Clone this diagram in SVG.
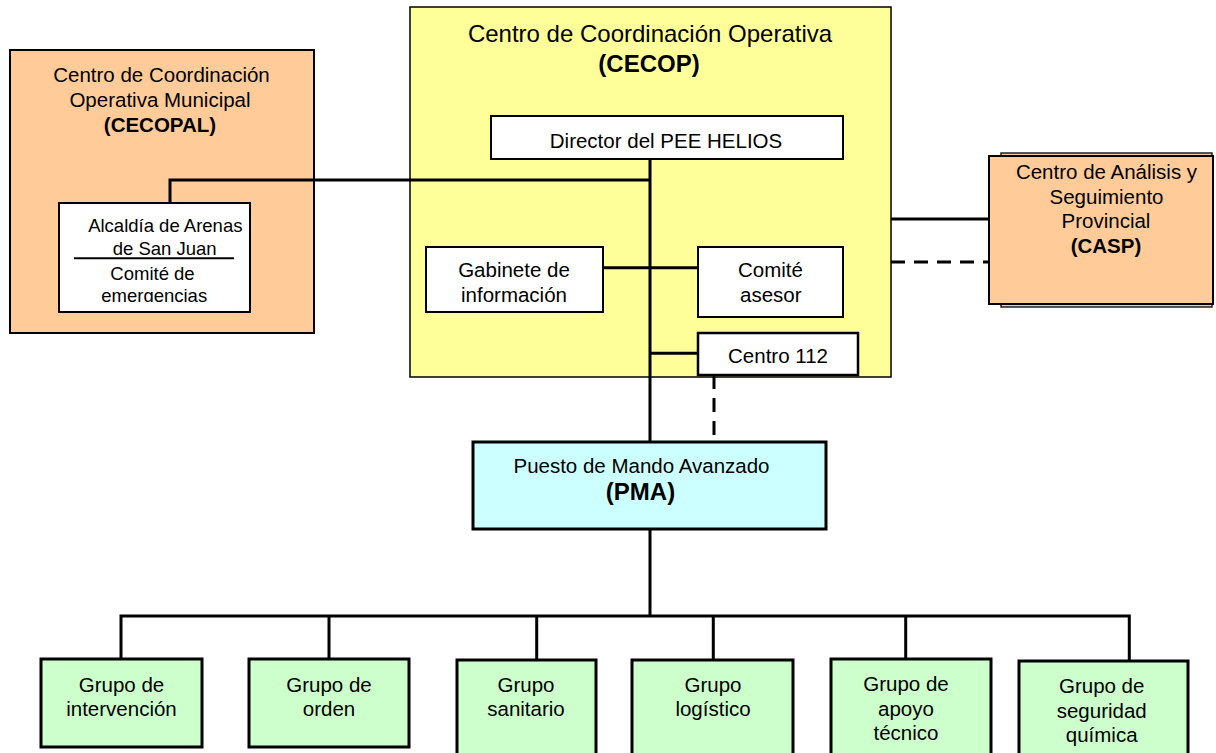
<svg xmlns="http://www.w3.org/2000/svg" width="1216" height="753" viewBox="0 0 1216 753">
<style>
text{font-family:"Liberation Sans",Arial,sans-serif;fill:#000;text-anchor:middle;font-size:20.5px}
.b{font-weight:bold}
.t24{font-size:24px}
.s{font-size:18.5px}
.peach{fill:#FFCC99}
.yel{fill:#FFFF99}
.cy{fill:#CCFFFF}
.gr{fill:#CCFFCC}
.wh{fill:#FFFFFF}
.ln{stroke:#000;stroke-width:3;fill:none}
.dash{stroke:#000;stroke-width:3;fill:none;stroke-dasharray:14 9}
</style>
<defs>
<clipPath id="clipAlc"><rect x="60" y="204" width="189" height="98"/></clipPath>
<clipPath id="clipGab"><rect x="427" y="248" width="175" height="54"/></clipPath>
</defs>
<rect x="0" y="0" width="1216" height="753" fill="#FFFFFF"/>

<g id="cecopal">
<rect x="10" y="50" width="304" height="283" class="peach" stroke="#000" stroke-width="2"/>
<text x="161.5" y="81.7">Centro de Coordinación</text>
<text x="160" y="106.7">Operativa Municipal</text>
<text x="160" y="131.7" class="b">(CECOPAL)</text>
</g>

<g id="cecop">
<rect x="410" y="7" width="481" height="370" class="yel" stroke="#000" stroke-width="1.5"/>
<text x="650" y="41.7" class="t24">Centro de Coordinación Operativa</text>
<text x="649" y="71.7" class="t24 b">(CECOP)</text>
</g>

<g id="casp">
<rect x="1001" y="153" width="211" height="154" class="peach" stroke="#222" stroke-width="1.5"/>
<rect x="989" y="156" width="224" height="148" class="peach" stroke="#000" stroke-width="2"/>
<text x="1106.5" y="179.3">Centro de Análisis y</text>
<text x="1106.5" y="203.5">Seguimiento</text>
<text x="1106" y="228.3">Provincial</text>
<text x="1106" y="252.7" class="b">(CASP)</text>
</g>

<g id="connectors">
<path class="ln" d="M650 159 V442"/>
<path class="ln" d="M170 203 V180 H650"/>
<path class="ln" d="M603 267.7 H698"/>
<path class="ln" d="M650 353.3 H698"/>
<path class="dash" d="M714 375 V455"/>
<path class="ln" d="M891 219 H989"/>
<path class="dash" d="M891 262 H989"/>
<path class="ln" d="M650 529 V616"/>
<path class="ln" d="M121 659 V616 H1129.3 V661"/>
<path class="ln" d="M329 616 V659"/>
<path class="ln" d="M536.7 616 V660"/>
<path class="ln" d="M713.3 616 V660"/>
<path class="ln" d="M905.7 616 V659"/>
</g>

<g id="alcaldia">
<rect x="59" y="203" width="191" height="109" class="wh" stroke="#000" stroke-width="2"/>
<line x1="74" y1="258.3" x2="234" y2="258.3" stroke="#000" stroke-width="2"/>
<g clip-path="url(#clipAlc)">
<text x="165.3" y="231.7" class="s">Alcaldía de Arenas</text>
<text x="164.7" y="254.5" class="s">de San Juan</text>
<text x="152.5" y="280" class="s">Comité de</text>
<text x="154.2" y="301.5" class="s">emergencias</text>
</g>
</g>

<g id="director">
<rect x="491" y="116" width="352" height="43" class="wh" stroke="#000" stroke-width="2"/>
<text x="666" y="147.7">Director del PEE HELIOS</text>
</g>

<g id="gabinete">
<rect x="426" y="247" width="177" height="65" class="wh" stroke="#000" stroke-width="2"/>
<g clip-path="url(#clipGab)">
<text x="514" y="277.3">Gabinete de</text>
<text x="514" y="301.5">información</text>
</g>
</g>

<g id="comite">
<rect x="698" y="247" width="145" height="70" class="wh" stroke="#000" stroke-width="2"/>
<text x="770.5" y="277.3">Comité</text>
<text x="770.8" y="302">asesor</text>
</g>

<g id="centro112">
<rect x="698" y="333" width="160" height="42" class="wh" stroke="#000" stroke-width="2.5"/>
<text x="778" y="363.3">Centro 112</text>
</g>

<g id="pma">
<rect x="473" y="442" width="353" height="87" class="cy" stroke="#000" stroke-width="3"/>
<text x="641.5" y="473.3">Puesto de Mando Avanzado</text>
<text x="640.5" y="500" class="t24 b">(PMA)</text>
</g>

<g id="g-intervencion">
<rect x="41" y="659" width="161" height="88" class="gr" stroke="#000" stroke-width="3"/>
<text x="121.5" y="691.7">Grupo de</text>
<text x="121.5" y="715.5">intervención</text>
</g>
<g id="g-orden">
<rect x="249" y="659" width="160" height="88" class="gr" stroke="#000" stroke-width="3"/>
<text x="329" y="691.7">Grupo de</text>
<text x="329" y="715.5">orden</text>
</g>
<g id="g-sanitario">
<rect x="457" y="660" width="139" height="100" class="gr" stroke="#000" stroke-width="3"/>
<text x="526" y="691.7">Grupo</text>
<text x="526" y="715.5">sanitario</text>
</g>
<g id="g-logistico">
<rect x="632" y="660" width="161" height="100" class="gr" stroke="#000" stroke-width="3"/>
<text x="713" y="691.7">Grupo</text>
<text x="713" y="715.5">logístico</text>
</g>
<g id="g-apoyo">
<rect x="831" y="659" width="160" height="100" class="gr" stroke="#000" stroke-width="3"/>
<text x="906" y="691">Grupo de</text>
<text x="906" y="715.5">apoyo</text>
<text x="906" y="739.5">técnico</text>
</g>
<g id="g-quimica">
<rect x="1019" y="661" width="169" height="100" class="gr" stroke="#000" stroke-width="3"/>
<text x="1101.7" y="693">Grupo de</text>
<text x="1101.7" y="717.5">seguridad</text>
<text x="1101.7" y="742">química</text>
</g>
</svg>
